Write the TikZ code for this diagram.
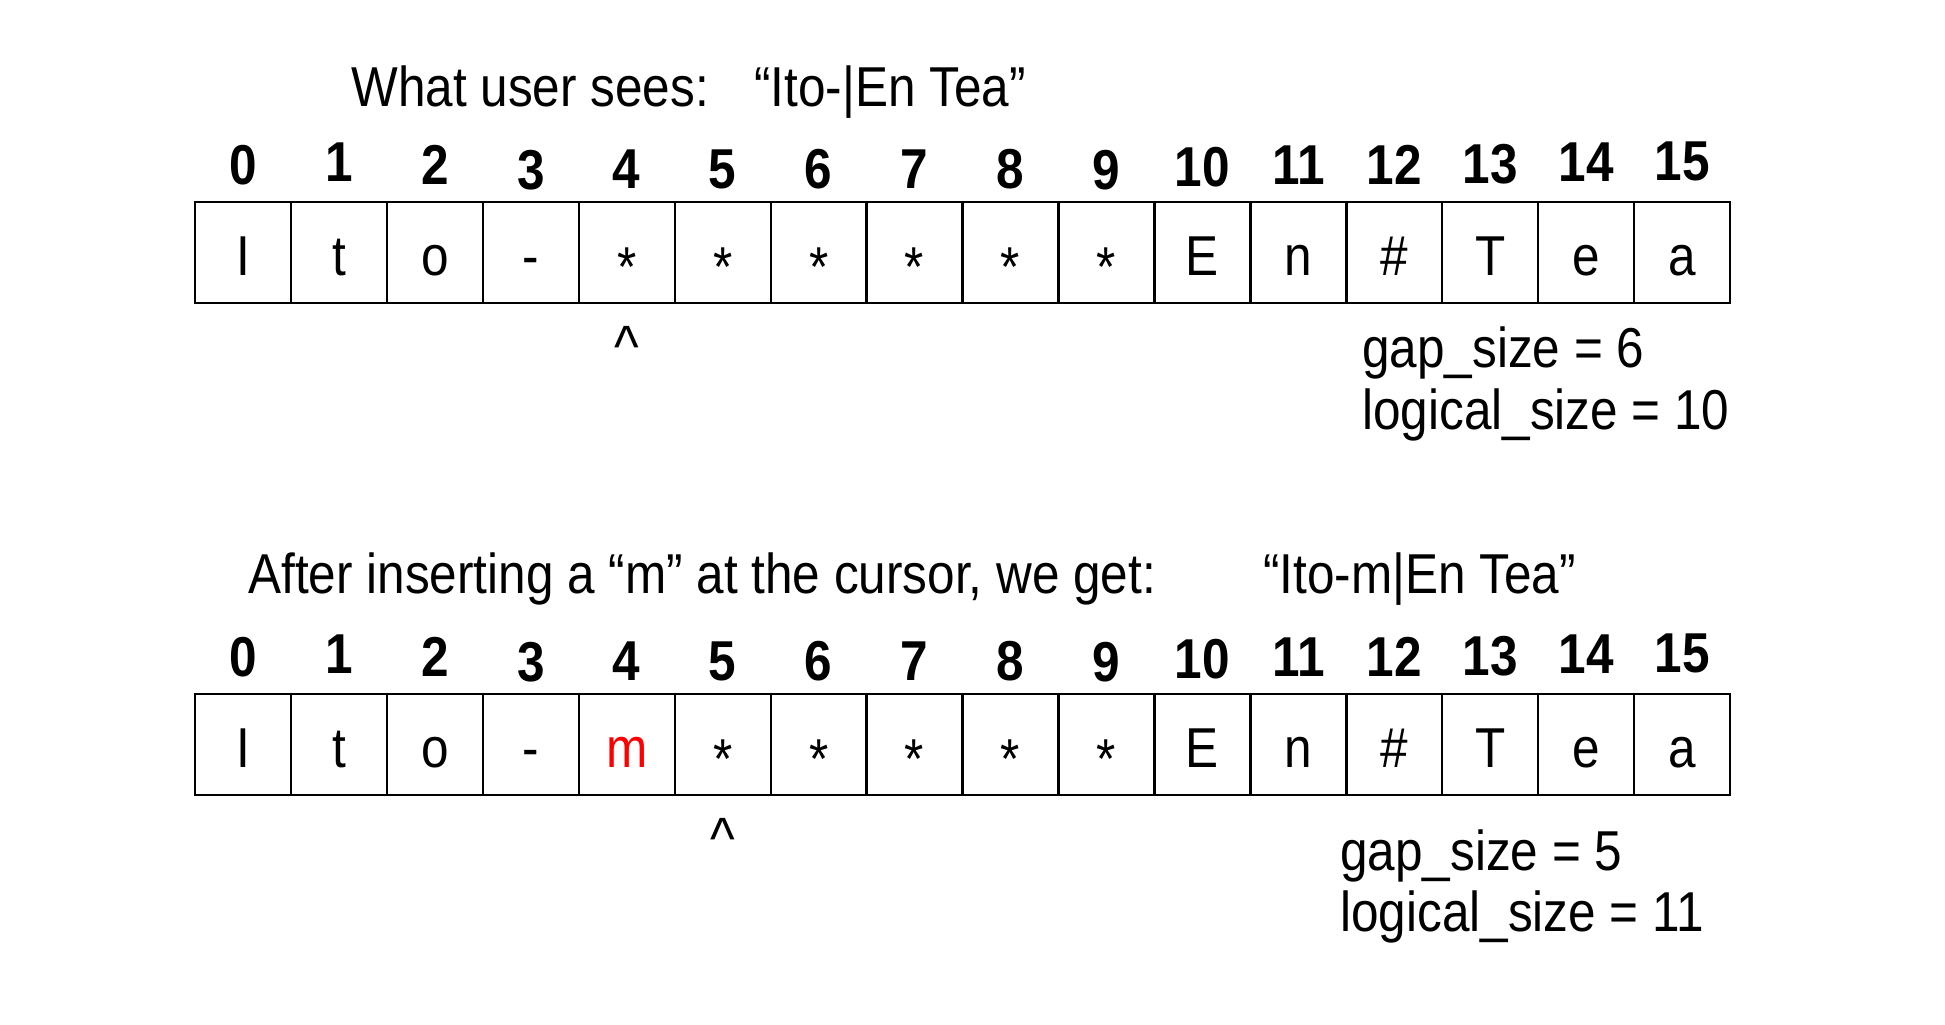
\documentclass[tikz,border=0pt]{standalone}
\usepackage{fontspec}
\setmainfont[FakeStretch=0.88]{Liberation Sans}
\usetikzlibrary{positioning}

\tikzset{
  cell/.style={draw, line width=1.3pt, minimum width=1.919cm, minimum height=2.02cm,
    inner sep=0pt, text height=0.92cm, text depth=0cm, font=\fontsize{32}{38}\selectfont},
  idx/.style={font=\fontsize{32}{38}\selectfont\bfseries, inner sep=0pt},
  txt/.style={font=\fontsize{32}{38}\selectfont, inner sep=0pt, anchor=base west},
  caret/.style={font=\fontsize{34}{38}\selectfont, inner sep=0pt}
}
\newcommand{\gapch}{\raisebox{-0.2em}{*}}

\begin{document}
\begin{tikzpicture}
\useasboundingbox (0,0) rectangle (38.9,-20.48);

%Before insert
\node[txt] (seesa) at (7.02,-2.13) {What user sees:};
\node[txt] (showa) at (15.08,-2.13) {“Ito-|En Tea”};

\foreach \i/\yy in {0/3.30,1/3.24,2/3.30,3/3.40,4/3.38,5/3.38,6/3.38,7/3.38,8/3.38,9/3.40,10/3.34,11/3.30,12/3.30,13/3.28,14/3.24,15/3.22}
\node[idx] (na\i) at ({4.859+1.919*\i},-\yy) {\i};

\foreach \i/\ch in {0/I,1/t,2/o,3/-,4/\gapch,5/\gapch,6/\gapch,7/\gapch,8/\gapch,9/\gapch,10/E,11/n,12/\#,13/T,14/e,15/a}
\node[cell] (a\i) at ({4.859+1.919*\i},-5.05) {\ch};

\node[caret, below=0.44cm of a4] (cura) {\textasciicircum};
\node[txt] (gapa) at (27.24,-7.34) {gap\_size = 6};
\node[txt] (loga) at (27.24,-8.58) {logical\_size = 10};

%After insert
\node[txt] (seesb) at (4.96,-11.86) {After inserting a “m” at the cursor, we get:};
\node[txt] (showb) at (25.26,-11.86) {“Ito-m|En Tea”};

\foreach \i/\yy in {0/3.30,1/3.24,2/3.30,3/3.40,4/3.38,5/3.38,6/3.38,7/3.38,8/3.38,9/3.40,10/3.34,11/3.30,12/3.30,13/3.28,14/3.24,15/3.22}
\node[idx] (nb\i) at ({4.859+1.919*\i},{-\yy-9.84}) {\i};

\foreach \i/\ch in {0/I,1/t,2/o,3/-,4/{\textcolor{red}{m}},5/\gapch,6/\gapch,7/\gapch,8/\gapch,9/\gapch,10/E,11/n,12/\#,13/T,14/e,15/a}
\node[cell] (b\i) at ({4.859+1.919*\i},-14.89) {\ch};

\node[caret, below=0.44cm of b5] (curb) {\textasciicircum};
\node[txt] (gapb) at (26.8,-17.4) {gap\_size = 5};
\node[txt] (logb) at (26.8,-18.63) {logical\_size = 11};

\end{tikzpicture}
\end{document}
